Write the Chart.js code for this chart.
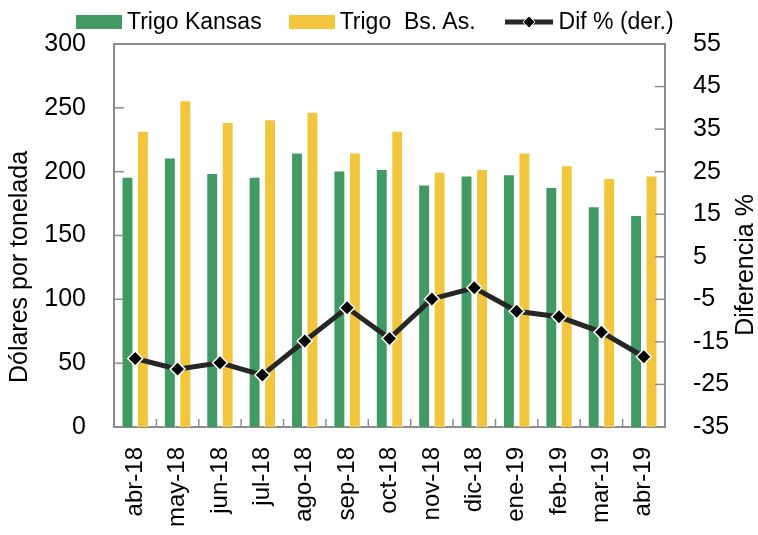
<!DOCTYPE html>
<html>
<head>
<meta charset="utf-8">
<script src="https://cdn.jsdelivr.net/npm/chart.js@4"></script>
<style>
  html, body { margin: 0; padding: 0; background: #fff; }
  #wrap { position: relative; width: 758px; height: 535px; }
  #legend { position: absolute; left: 76px; top: 8px; display: flex; align-items: center;
    font-family: 'Liberation Sans', Arial, sans-serif; font-size: 23px; color: #000; white-space: pre; }
  #legend .item { display: flex; align-items: center; margin-right: 27px; }
  #legend .box { width: 46px; height: 14px; margin-right: 5px; }
  #legend canvas { margin-right: 4px; }
</style>
</head>
<body>
<div id="wrap">
  <canvas id="chart" width="758" height="535"></canvas>
  <div id="legend"></div>
</div>
<script>
const months = ['abr-18', 'may-18', 'jun-18', 'jul-18', 'ago-18', 'sep-18', 'oct-18',
  'nov-18', 'dic-18', 'ene-19', 'feb-19', 'mar-19', 'abr-19'];
const kansas = [196, 211, 199, 196, 215, 201, 202, 190, 197, 198, 188, 173, 166];
const bsas = [232, 256, 239, 241, 247, 215, 232, 200, 202, 215, 205, 195, 197];
const difPct = [-18.9, -21.4, -19.9, -22.8, -14.8, -7.0, -14.2, -4.9, -2.3, -7.8, -9.1, -12.7, -18.5];

const GREEN = '#419a63';
const YELLOW = '#f1c53c';
const AXIS = '#8c8c8c';
const FONT = "'Liberation Sans', Arial, sans-serif";

// --- HTML legend ---
function buildLegend() {
  const legend = document.getElementById('legend');
  const items = [
    { label: 'Trigo Kansas', color: GREEN },
    { label: 'Trigo  Bs. As.', color: YELLOW },
    { label: 'Dif % (der.)', line: true }
  ];
  items.forEach(it => {
    const el = document.createElement('div');
    el.className = 'item';
    if (it.line) {
      const c = document.createElement('canvas');
      c.width = 52; c.height = 16;
      const g = c.getContext('2d');
      g.strokeStyle = '#262626'; g.lineWidth = 5;
      g.beginPath(); g.moveTo(2, 8); g.lineTo(50, 8); g.stroke();
      g.fillStyle = '#000'; g.strokeStyle = '#fff'; g.lineWidth = 1;
      g.beginPath(); g.moveTo(26, 2); g.lineTo(32, 8); g.lineTo(26, 14); g.lineTo(20, 8); g.closePath();
      g.fill(); g.stroke();
      el.appendChild(c);
    } else {
      const b = document.createElement('span');
      b.className = 'box';
      b.style.background = it.color;
      el.appendChild(b);
    }
    const t = document.createElement('span');
    t.textContent = it.label;
    el.appendChild(t);
    legend.appendChild(el);
  });
}
buildLegend();

// inward tick marks, top border and rotated axis titles
const decorations = {
  id: 'decorations',
  afterDraw(chart) {
    const { ctx, chartArea, scales } = chart;
    ctx.save();
    ctx.strokeStyle = AXIS;
    ctx.lineWidth = 2;
    ctx.beginPath(); ctx.moveTo(chartArea.left - 1, chartArea.top); ctx.lineTo(chartArea.right + 1, chartArea.top); ctx.stroke();
    ctx.lineWidth = 1.5;
    scales.y.ticks.forEach(t => {
      const py = scales.y.getPixelForValue(t.value);
      ctx.beginPath(); ctx.moveTo(chartArea.left, py); ctx.lineTo(chartArea.left + 10, py); ctx.stroke();
    });
    scales.y1.ticks.forEach(t => {
      const py = scales.y1.getPixelForValue(t.value);
      ctx.beginPath(); ctx.moveTo(chartArea.right, py); ctx.lineTo(chartArea.right - 10, py); ctx.stroke();
    });
    const half = (scales.x.getPixelForValue(1) - scales.x.getPixelForValue(0)) / 2;
    for (let i = 1; i < months.length; i++) {
      const px = scales.x.getPixelForValue(i) - half;
      ctx.beginPath(); ctx.moveTo(px, chartArea.bottom); ctx.lineTo(px, chartArea.bottom - 8); ctx.stroke();
    }
    // axis titles, both read bottom to top
    ctx.fillStyle = '#000';
    ctx.font = '25px ' + FONT;
    ctx.textAlign = 'center';
    ctx.textBaseline = 'middle';
    [['Dólares por tonelada', 20, 267], ['Diferencia %', 746, 265]].forEach(([txt, x, y]) => {
      ctx.save();
      ctx.translate(x, y);
      ctx.rotate(-Math.PI / 2);
      ctx.fillText(txt, 0, 0);
      ctx.restore();
    });
    ctx.restore();
  }
};

new Chart(document.getElementById('chart'), {
  data: {
    labels: months,
    datasets: [
      { type: 'bar', label: 'Trigo Kansas', data: kansas, backgroundColor: GREEN,
        borderColor: 'rgba(255,255,255,0.6)', borderWidth: 1, yAxisID: 'y', order: 2 },
      { type: 'bar', label: 'Trigo  Bs. As.', data: bsas, backgroundColor: YELLOW,
        borderColor: 'rgba(255,255,255,0.6)', borderWidth: 1, yAxisID: 'y', order: 2 },
      { type: 'line', label: 'Dif % (der.)', data: difPct, yAxisID: 'y1', order: 1,
        borderColor: '#262626', borderWidth: 5, pointStyle: 'rectRot', pointRadius: 7.5,
        pointBackgroundColor: '#000', pointBorderColor: '#fff', pointBorderWidth: 1.5 }
    ]
  },
  options: {
    responsive: false,
    animation: false,
    layout: { padding: { top: 44, right: 0, left: 0, bottom: 0 } },
    datasets: { bar: { categoryPercentage: 0.73, barPercentage: 0.77 } },
    plugins: { tooltip: { enabled: false }, legend: { display: false } },
    scales: {
      x: {
        grid: { display: false, drawTicks: false },
        border: { color: AXIS, width: 2 },
        ticks: { color: '#000', font: { family: FONT, size: 24 }, minRotation: 90, maxRotation: 90, padding: 20, autoSkip: false },
        afterFit(scale) { scale.height = 108; }
      },
      y: {
        position: 'left', min: 0, max: 300,
        grid: { display: false, drawTicks: false },
        border: { color: AXIS, width: 2 },
        ticks: { stepSize: 50, color: '#000', font: { family: FONT, size: 25 }, padding: 28 },
        afterFit(scale) { scale.width = 114; }
      },
      y1: {
        position: 'right', min: -35, max: 55,
        grid: { display: false, drawTicks: false },
        border: { color: AXIS, width: 2 },
        ticks: { stepSize: 10, color: '#000', font: { family: FONT, size: 25 }, padding: 28 },
        afterFit(scale) { scale.width = 93; }
      }
    }
  },
  plugins: [decorations]
});
</script>
</body>
</html>
